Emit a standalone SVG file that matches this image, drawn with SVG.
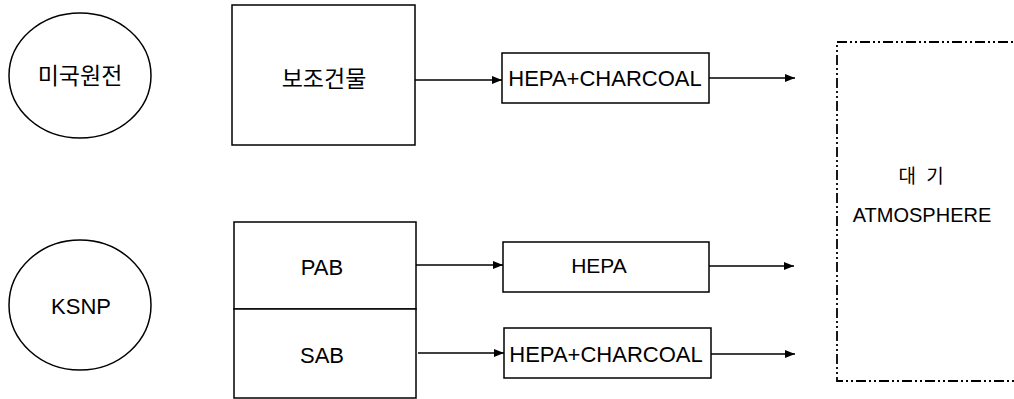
<svg xmlns="http://www.w3.org/2000/svg" width="1014" height="399" viewBox="0 0 1014 399">
<defs>
<style>
.shape{fill:#fff;stroke:#000;stroke-width:1.5}
.atm{fill:none;stroke:#000;stroke-width:1.8;stroke-dasharray:10 3 2 3 2 3}
.t{font-family:"Liberation Sans","Noto Sans CJK KR",sans-serif;fill:#000;text-anchor:middle}
.k{font-family:"Noto Sans CJK KR","Liberation Sans",sans-serif;fill:#000;text-anchor:middle}
.c{stroke:#000;stroke-width:1.5;fill:none;marker-end:url(#ah)}
</style>
<marker id="ah" viewBox="0 0 10 8" refX="10" refY="4" markerWidth="10" markerHeight="8" markerUnits="userSpaceOnUse" orient="auto">
<path d="M0,0 L10,4 L0,8 Z" fill="#000"/>
</marker>
</defs>
<rect width="1014" height="399" fill="#fff"/>
<g id="us-plant">
<ellipse class="shape" cx="80" cy="75.5" rx="71" ry="62.5"/>
<text class="k" x="80" y="84" font-size="23">미국원전</text>
</g>
<g id="ksnp">
<ellipse class="shape" cx="80" cy="305" rx="71" ry="65"/>
<text class="t" x="81" y="314" font-size="22">KSNP</text>
</g>
<g id="aux-building">
<rect class="shape" x="232" y="5" width="183" height="140"/>
<text class="k" x="324" y="87" font-size="23">보조건물</text>
</g>
<g id="filter-us">
<rect class="shape" x="502" y="53" width="207" height="50"/>
<text class="t" x="605" y="86" font-size="22">HEPA+CHARCOAL</text>
</g>
<g id="pab">
<rect class="shape" x="234" y="222" width="182" height="87"/>
<text class="t" x="322" y="275" font-size="22">PAB</text>
</g>
<g id="sab">
<rect class="shape" x="234" y="309" width="182" height="89"/>
<text class="t" x="322" y="363" font-size="22">SAB</text>
</g>
<g id="filter-pab">
<rect class="shape" x="503" y="242" width="206" height="50"/>
<text class="t" x="599" y="273" font-size="21">HEPA</text>
</g>
<g id="filter-sab">
<rect class="shape" x="504" y="328" width="207" height="50"/>
<text class="t" x="606" y="362" font-size="22">HEPA+CHARCOAL</text>
</g>
<g id="atmosphere">
<rect class="atm" x="837" y="42" width="190" height="339"/>
<text class="k" x="921" y="183" font-size="19" word-spacing="6">대 기</text>
<text class="t" x="922" y="222" font-size="20">ATMOSPHERE</text>
</g>
<g id="connectors">
<line class="c" x1="415" y1="80" x2="502" y2="80"/>
<line class="c" x1="709" y1="78" x2="795" y2="78"/>
<line class="c" x1="416" y1="265" x2="503" y2="265"/>
<line class="c" x1="709" y1="266" x2="794" y2="266"/>
<line class="c" x1="418" y1="353" x2="504" y2="353"/>
<line class="c" x1="711" y1="354" x2="795" y2="354"/>
</g>
</svg>
